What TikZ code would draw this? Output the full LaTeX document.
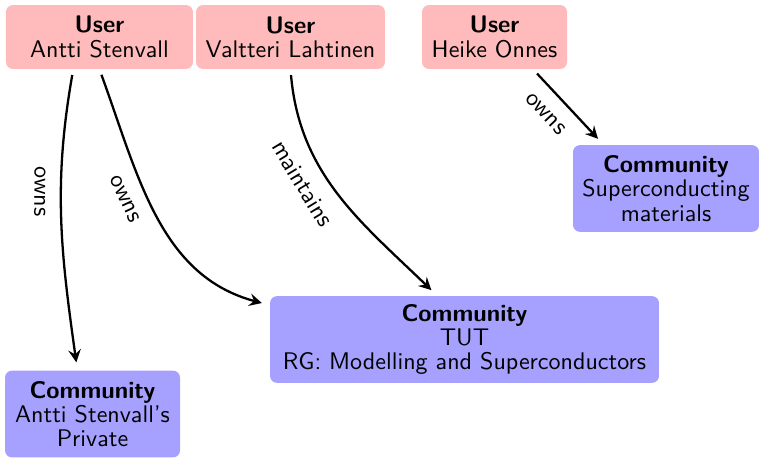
\documentclass[tikz,border=0pt]{standalone}
\usepackage{tikz}
\usetikzlibrary{arrows.meta}
\definecolor{userpink}{RGB}{255,187,187}
\definecolor{commblue}{RGB}{166,160,255}

\begin{document}
\begin{tikzpicture}[
  font=\sffamily\fontsize{10.5}{10.6}\selectfont,
  user/.style={fill=userpink, rounded corners=3pt, align=center, minimum height=0.98cm, inner sep=2pt},
  community/.style={fill=commblue, rounded corners=3pt, align=center, minimum height=1.33cm, inner sep=2pt},
  rel/.style={line width=1pt, -{Stealth[length=5.5pt,width=5.5pt,inset=2pt]}, shorten <=2.5pt, shorten >=3.5pt},
  lbl/.style={sloped, allow upside down, below=3pt}
]
  \useasboundingbox (0,0) rectangle (11.65,-7.015);

  \node[user, minimum width=2.87cm] (antti) at (1.527,-0.568) {\textbf{User}\\Antti Stenvall};
  \node[user, minimum width=2.90cm] (valtteri) at (4.459,-0.568) {\textbf{User}\\Valtteri Lahtinen};
  \node[user, minimum width=2.226cm] (heike) at (7.591,-0.568) {\textbf{User}\\Heike Onnes};

  \node[community, minimum width=2.855cm] (supercond) at (10.223,-2.893) {\textbf{Community}\\Superconducting\\materials};
  \node[community, minimum width=5.97cm] (tut) at (7.130,-5.211) {\textbf{Community}\\TUT\\RG: Modelling and Superconductors};
  \node[community, minimum width=2.686cm] (private) at (1.420,-6.355) {\textbf{Community}\\Antti Stenvall's\\Private};

  \draw[rel] (antti.231) to[out=-100,in=98] node[lbl, pos=0.4] {owns} (private.109);
  \draw[rel] (antti.south) to[out=-70,in=165] node[lbl, pos=0.4] {owns} (tut.170);
  \draw[rel] (valtteri.south) to[out=-85,in=136] node[lbl, pos=0.39] {maintains} (tut.122);
  \draw[rel] (heike.320) -- node[lbl, pos=0.4] {owns} (supercond.145);
\end{tikzpicture}
\end{document}
